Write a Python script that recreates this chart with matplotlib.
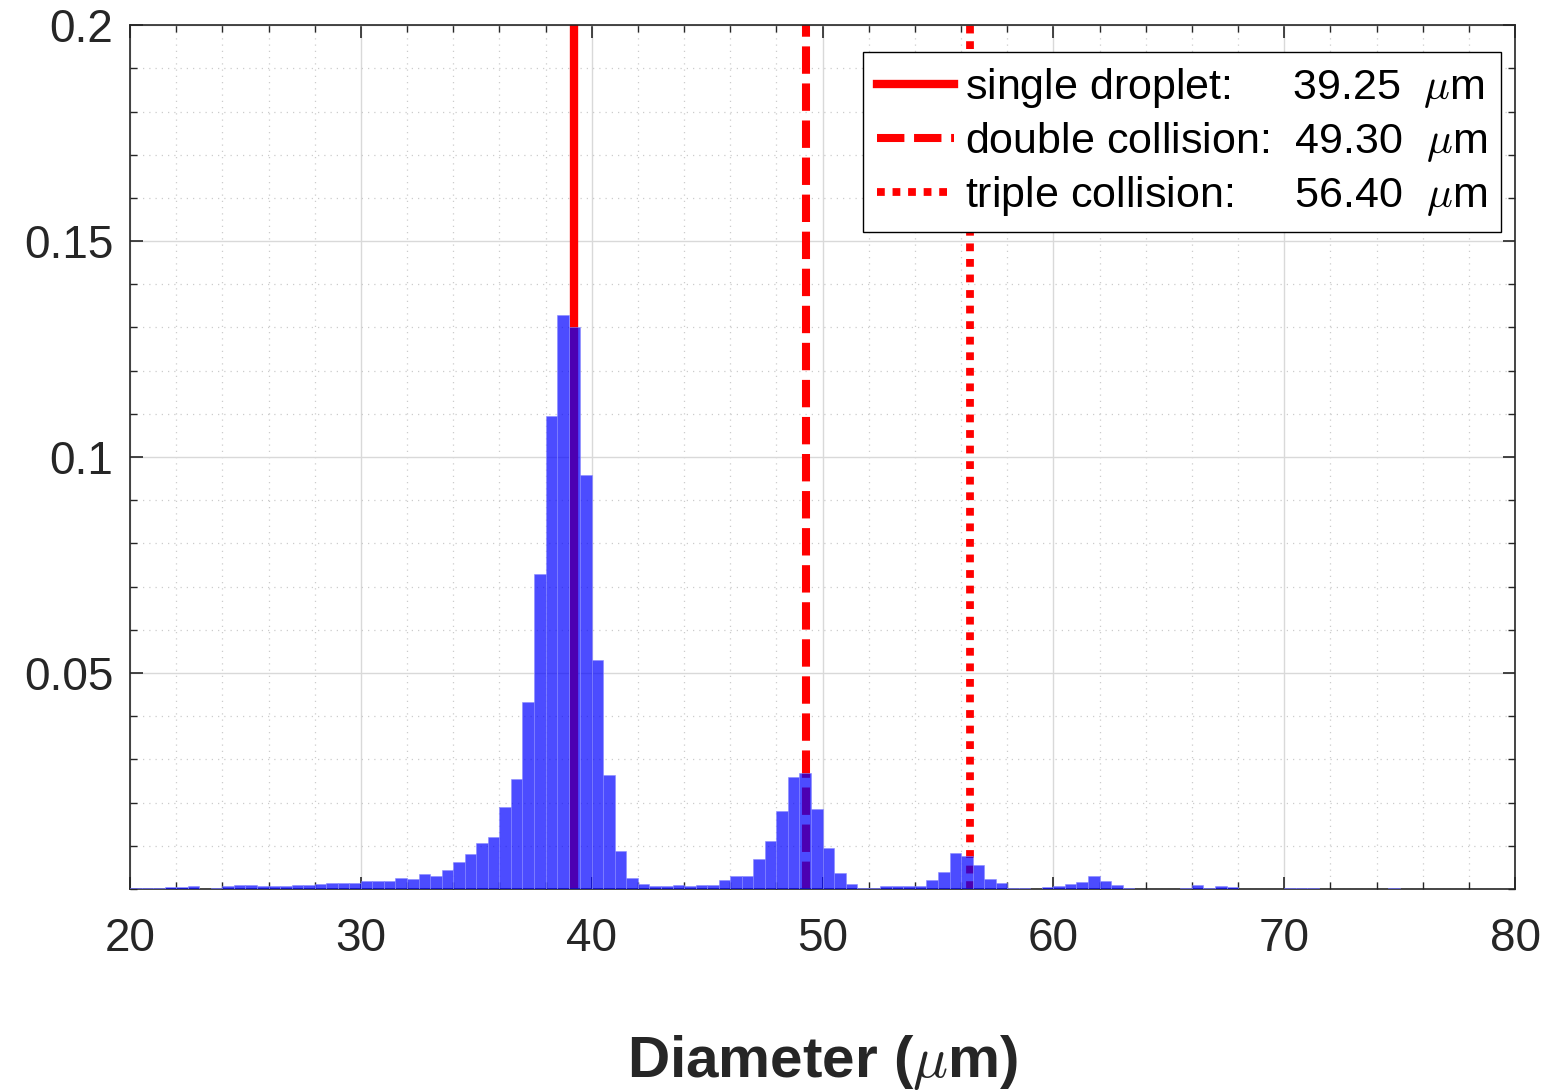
import matplotlib
matplotlib.use("Agg")
import matplotlib.pyplot as plt
from matplotlib.ticker import MultipleLocator
import numpy as np

# histogram of droplet diameters, 0.5 um bins from 20 to 80 um
bin_start = 20.0
bin_width = 0.5
probability = [
    0.00015, 0.00015, 0.0003, 0.0005, 0.0004, 0.0007, 0.0001, 0.0002, 0.0007, 0.0009,  # 20
    0.0009, 0.0008, 0.0006, 0.0008, 0.0009, 0.0010, 0.0011, 0.0014, 0.0013, 0.0014,    # 25
    0.0018, 0.0018, 0.0018, 0.0025, 0.0024, 0.0034, 0.0031, 0.0043, 0.0062, 0.0082,    # 30
    0.0107, 0.0120, 0.0190, 0.0255, 0.0432, 0.0730, 0.1095, 0.1329, 0.1302, 0.0959,    # 35
    0.0531, 0.0264, 0.0088, 0.0025, 0.0012, 0.0008, 0.0008, 0.0010, 0.0006, 0.0010,    # 40
    0.0009, 0.0021, 0.0029, 0.0031, 0.0069, 0.0110, 0.0180, 0.0260, 0.0268, 0.0186,    # 45
    0.0095, 0.0037, 0.0011, 0.0002, 0.0003, 0.0006, 0.0008, 0.0007, 0.0007, 0.0020,    # 50
    0.0040, 0.0083, 0.0077, 0.0056, 0.0022, 0.0015, 0.0002, 0.0002, 0.0001, 0.0004,    # 55
    0.0007, 0.0011, 0.0017, 0.0030, 0.0019, 0.0010, 0.0002, 0.0001, 0.0001, 0.0001,    # 60
    0.0001, 0.0002, 0.0010, 0.0002, 0.0007, 0.0005, 0.0001, 0.0001, 0.0001, 0.0001,    # 65
    0.0003, 0.0003, 0.0002, 0.0001, 0.0001, 0.0001, 0.0001, 0.0001, 0.0001, 0.0002,    # 70
    0.0001, 0.0001, 0.0001, 0.0000, 0.0, 0.0, 0.0, 0.0, 0.0, 0.0,                      # 75
]

peak_names = ["single droplet:", "double collision:", "triple collision:"]
peak_diameters = [39.25, 49.30, 56.40]
peak_pads = ["     ", "  ", "     "]

x_ticks = [20, 30, 40, 50, 60, 70, 80]
y_ticks = [0.05, 0.1, 0.15, 0.2]
y_tick_labels = ["0.05", "0.1", "0.15", "0.2"]


def main() -> None:
    plt.rcParams["font.family"] = ["Liberation Sans", "DejaVu Sans"]
    plt.rcParams["mathtext.fontset"] = "cm"
    dark = (0.15, 0.15, 0.15)

    fig = plt.figure(figsize=(15.46, 10.92), dpi=100)
    ax = fig.add_axes([0.0841, 0.1859, 0.8959, 0.7911])

    left_edges = bin_start + bin_width * np.arange(len(probability))
    ax.bar(left_edges, probability, width=bin_width, align="edge",
           color="blue", alpha=0.7, edgecolor=(0.55, 0.55, 1.0), linewidth=0.6, zorder=3)

    styles = [
        dict(linestyle="-", linewidth=6.0),
        dict(linestyle=(0, (3.4, 1.2)), linewidth=5.8),
        dict(linestyle=(0, (1.0, 1.0)), linewidth=5.6),
    ]
    for name, d, pad, st in zip(peak_names, peak_diameters, peak_pads, styles):
        label = f"{name}{pad}{d:.2f}  $\\mu$m"
        ax.axvline(d, color="red", zorder=2, label=label, **st)

    ax.set_xlim(20, 80)
    ax.set_ylim(0, 0.2)
    ax.set_xticks(x_ticks)
    ax.set_yticks(y_ticks)
    ax.set_yticklabels(y_tick_labels)
    ax.xaxis.set_minor_locator(MultipleLocator(2))
    ax.yaxis.set_minor_locator(MultipleLocator(0.01))

    ax.grid(True, which="major", color=(0.85, 0.85, 0.85), linewidth=1.0, zorder=0)
    ax.grid(True, which="minor", color=(0.8, 0.8, 0.8), linestyle=(0, (1, 4)), linewidth=0.9, zorder=0)
    ax.set_axisbelow(True)

    ax.tick_params(which="both", direction="in", top=True, right=True, colors=dark)
    ax.tick_params(which="major", length=9, width=1.2)
    ax.tick_params(which="minor", length=5, width=1.0)
    ax.tick_params(axis="x", which="major", labelsize=33, pad=20)
    ax.tick_params(axis="y", which="major", labelsize=33, pad=12)
    for sp in ax.spines.values():
        sp.set_color(dark)
        sp.set_linewidth(1.2)

    ax.set_xlabel(r"Diameter ($\mu$m)", fontsize=42, fontweight="bold", color=dark, labelpad=52)

    leg = ax.legend(loc="upper right", bbox_to_anchor=(0.99, 0.969), fontsize=31,
                    frameon=True, fancybox=False, framealpha=1.0, edgecolor="black",
                    handlelength=1.8, handletextpad=0.25, borderpad=0.32,
                    labelspacing=0.24, borderaxespad=0.0)
    leg.get_frame().set_linewidth(1.0)

    fig.savefig("out.png", dpi=100)


if __name__ == "__main__":
    main()
